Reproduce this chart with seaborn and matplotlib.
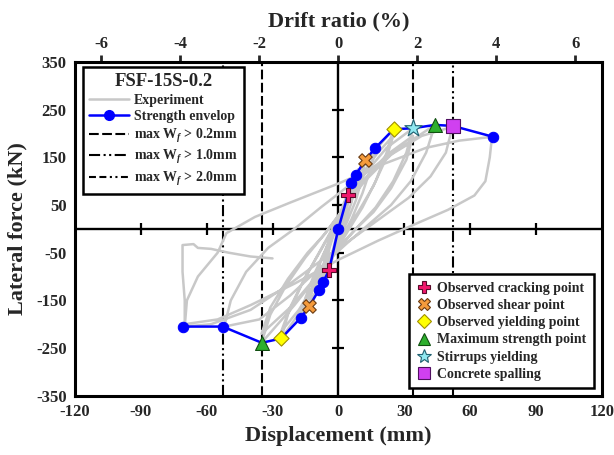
import matplotlib
matplotlib.use("Agg")
import matplotlib.pyplot as plt
import seaborn as sns
from matplotlib.lines import Line2D

# ---------------- data ----------------
exp_x = [0, 2, 4, 3, 1, 0, -2, -4, -3, -1, 0,
         2, 4, 6, 5, 3, 1, -1, -3, -5, -7, -6, -4, -2, 0,
         3, 6, 9, 8, 6, 3, 0, -3, -6, -9, -8, -6, -3, 0,
         3, 7, 12, 11, 8, 4, 0, -4, -9, -13, -12, -9, -5, -1,
         3, 8, 12, 17, 15, 11, 6, 1, -4, -10, -17, -15, -11, -6, -2,
         3, 9, 16, 25, 22, 17, 11, 5, -1, -8, -16, -26, -23, -17, -10, -4,
         3, 10, 18, 25, 22, 16, 9, 3, -3, -10, -18, -26, -22, -15, -8, -3,
         4, 12, 22, 34, 31, 25, 17, 9, 1, -8, -20, -35, -31, -24, -15, -7,
         2, 12, 22, 34, 31, 24, 16, 8, 0, -10, -22, -35, -31, -23, -14, -6,
         2, 12, 25, 44, 40, 33, 24, 14, 4, -8, -22, -36, -52, -49, -42, -32, -20,
         -8, 6, 22, 38, 52, 49, 42, 32, 20, 8, -6, -22, -40, -58, -70, -69, -64, -55, -51,
         -38, -22, 0, 20, 40, 55, 70, 69, 67, 62, 50, 35, 18, 0, -20, -40, -55, -70,
         -70, -71, -71, -66, -64, -58, -50, -40, -30]
exp_y = [0, 35, 65, 40, 5, -15, -50, -85, -55, -15, 0,
         40, 70, 95, 65, 25, -5, -30, -60, -88, -110, -80, -40, -10, 10,
         55, 95, 125, 95, 55, 15, -20, -55, -95, -130, -100, -60, -20, 15,
         55, 100, 144, 110, 60, 15, -25, -70, -120, -162, -125, -80, -35, 5,
         55, 105, 140, 170, 130, 75, 20, -25, -70, -130, -186, -145, -95, -45, 0,
         60, 115, 160, 209, 160, 100, 45, 0, -45, -100, -165, -230, -180, -120, -60, -10,
         50, 110, 160, 195, 150, 90, 35, -5, -50, -110, -170, -215, -165, -100, -45, -5,
         55, 115, 170, 211, 160, 100, 45, 5, -35, -90, -160, -239, -180, -120, -60, -15,
         40, 105, 155, 195, 145, 85, 35, 0, -40, -100, -165, -220, -165, -105, -50, -10,
         40, 100, 160, 218, 160, 100, 50, 10, -30, -80, -140, -190, -205, -150, -90, -40, 0,
         45, 95, 150, 195, 214, 160, 110, 65, 25, -15, -60, -115, -170, -200, -205, -150, -100, -50, -9,
         25, 55, 95, 135, 170, 185, 193, 150, 100, 70, 40, 10, -25, -65, -115, -160, -190, -200,
         -150, -90, -34, -32, -40, -42, -50, -58, -62]

env_x = [-70.6, -52.7, -34.9, -26.1, -17.0, -13.2, -8.8, -6.8, -4.2, 0,
         4.3, 5.6, 7.9, 12.2, 16.9, 25.2, 33.9, 44.0, 52.1, 70.6]
env_y = [-205, -205, -239, -230, -186, -162, -128, -111, -86, 0,
         71, 97, 113, 144, 170, 209, 211, 218, 216, 193]

crack_x, crack_y = [4.3, -4.2], [71, -86]
shear_x, shear_y = [12.2, -13.2], [144, -162]
yield_x, yield_y = [25.2, -26.1], [209, -230]
maxs_x, maxs_y = [44.0, -34.9], [218, -239]
stirr_x, stirr_y = [33.9], [211]
spall_x, spall_y = [52.1], [216]

wf02_x = [-34.9, 33.9]
wf10_x = [-52.7, 52.1]

x_ticks = [-120, -90, -60, -30, 0, 30, 60, 90, 120]
y_ticks = [-350, -250, -150, -50, 50, 150, 250, 350]
drift_ticks = [-6, -4, -2, 0, 2, 4, 6]
height_mm = 1800

# ---------------- style ----------------
sns.set_theme(style="white")
plt.rcParams["font.family"] = ["Liberation Serif", "DejaVu Serif"]
plt.rcParams["font.weight"] = "bold"
plt.rcParams["axes.labelweight"] = "bold"
plt.rcParams["axes.unicode_minus"] = False
plt.rcParams["mathtext.fontset"] = "custom"
plt.rcParams["mathtext.rm"] = "Liberation Serif:bold"
plt.rcParams["mathtext.it"] = "Liberation Serif:italic:bold"
plt.rcParams["mathtext.bf"] = "Liberation Serif:bold"
plt.rcParams["lines.scale_dashes"] = False

fig = plt.figure(figsize=(6.14, 4.55), dpi=100)
ax = fig.add_axes([75 / 614, 1 - 395.7 / 455, 526.7 / 614, 333.7 / 455])

GRAY = "#C8C8C8"
BLUE = "#0000FF"

sns.lineplot(x=exp_x, y=exp_y, sort=False, estimator=None, color=GRAY,
             lw=1.8, ax=ax, zorder=2)

dash02 = (7, 2.5)
dash10 = (8, 2.5, 1.5, 2.5, 1.5, 2.5)
dash20 = (5, 2.5, 5, 2.5, 1.5, 2.5, 1.5, 2.5)
for xv in wf02_x:
    ax.axvline(xv, color="black", lw=1.5, dashes=dash02, zorder=1)
for xv in wf10_x:
    ax.axvline(xv, color="black", lw=1.5, dashes=dash10, zorder=1)

ax.axhline(0, color="black", lw=1.7, zorder=1.5)
ax.axvline(0, color="black", lw=1.7, zorder=1.5)
# ticks on the centre lines
cx = [t for t in x_ticks if t not in (0, -120, 120)]
cy = [t for t in y_ticks if abs(t) != 350]
ax.plot(cx, [0] * len(cx), ls="none", marker="|", ms=9, mew=1.6, color="black", zorder=1.5)
ax.plot([0] * len(cy), cy, ls="none", marker="_", ms=9, mew=1.6, color="black", zorder=1.5)

special = set(zip(crack_x + shear_x + yield_x + maxs_x + stirr_x + spall_x,
                  crack_y + shear_y + yield_y + maxs_y + stirr_y + spall_y))
circ_idx = [i for i, p in enumerate(zip(env_x, env_y)) if p not in special]
sns.lineplot(x=env_x, y=env_y, sort=False, estimator=None, color=BLUE, lw=1.8,
             marker="o", markevery=circ_idx, ms=7.5, mec=BLUE, mfc=BLUE, ax=ax, zorder=4)

mk = dict(ax=ax, zorder=5, legend=False)
sns.scatterplot(x=crack_x, y=crack_y, marker="P", s=95, color="#F0186C", edgecolor="#5A0A2A", linewidth=0.8, **mk)
sns.scatterplot(x=shear_x, y=shear_y, marker="X", s=95, color="#F59B3C", edgecolor="#6A3A10", linewidth=0.8, **mk)
sns.scatterplot(x=yield_x, y=yield_y, marker="D", s=60, color="#FFFF00", edgecolor="#A09000", linewidth=0.8, **mk)
sns.scatterplot(x=maxs_x, y=maxs_y, marker="^", s=100, color="#2DB02D", edgecolor="#105010", linewidth=0.8, **mk)
sns.scatterplot(x=stirr_x, y=stirr_y, marker="*", s=170, color="#90E8F0", edgecolor="#206070", linewidth=0.8, **mk)
sns.scatterplot(x=spall_x, y=spall_y, marker="s", s=95, color="#D040F0", edgecolor="#501060", linewidth=0.8, **mk)

ax.set_xlim(-120, 120)
ax.set_ylim(-350, 350)
ax.set_xticks(x_ticks)
ax.set_yticks(y_ticks)
ax.tick_params(axis="both", length=0, labelsize=12, pad=6)
for lab in ax.get_xticklabels() + ax.get_yticklabels():
    lab.set_fontweight("bold")
for sp in ax.spines.values():
    sp.set_visible(True)
    sp.set_color("black")
    sp.set_linewidth(2.2)
ax.set_xlabel("Displacement (mm)", fontsize=16, fontweight="bold", labelpad=4)
ax.set_ylabel("Lateral force (kN)", fontsize=16, fontweight="bold", labelpad=6)

sec = ax.secondary_xaxis("top", functions=(lambda d: d / height_mm * 100,
                                           lambda r: r * height_mm / 100))
sec.set_xticks(drift_ticks)
sec.tick_params(axis="x", direction="out", length=5, width=2, labelsize=12, pad=2)
for lab in sec.get_xticklabels():
    lab.set_fontweight("bold")
sec.set_xlabel("Drift ratio (%)", fontsize=16, fontweight="bold", labelpad=7)

# legends
h1 = [Line2D([], [], color=GRAY, lw=1.8),
      Line2D([], [], color=BLUE, lw=1.8, marker="o", ms=7, mfc=BLUE, mec=BLUE),
      Line2D([], [], color="black", lw=1.5, dashes=dash02),
      Line2D([], [], color="black", lw=1.5, dashes=dash10),
      Line2D([], [], color="black", lw=1.5, dashes=dash20)]
l1 = ["Experiment", "Strength envelop", r"max W$_{f}$ > 0.2mm",
      r"max W$_{f}$ > 1.0mm", r"max W$_{f}$ > 2.0mm"]
leg1 = ax.legend(h1, l1, title="FSF-15S-0.2", loc="upper left",
                 bbox_to_anchor=(0.0146, 0.985), borderaxespad=0,
                 prop={"weight": "bold", "size": 10},
                 title_fontproperties={"weight": "bold", "size": 13.5},
                 frameon=True, fancybox=False, edgecolor="black",
                 framealpha=1, handlelength=2.9, handletextpad=0.35,
                 labelspacing=0.25, borderpad=0.45)
leg1.get_frame().set_linewidth(1.8)
ax.add_artist(leg1)

h2 = [Line2D([], [], ls="none", marker="P", ms=9, mfc="#F0186C", mec="#5A0A2A", mew=0.8),
      Line2D([], [], ls="none", marker="X", ms=9, mfc="#F59B3C", mec="#6A3A10", mew=0.8),
      Line2D([], [], ls="none", marker="D", ms=7, mfc="#FFFF00", mec="#A09000", mew=0.8),
      Line2D([], [], ls="none", marker="^", ms=9, mfc="#2DB02D", mec="#105010", mew=0.8),
      Line2D([], [], ls="none", marker="*", ms=10, mfc="#90E8F0", mec="#206070", mew=0.8),
      Line2D([], [], ls="none", marker="s", ms=8, mfc="#D040F0", mec="#501060", mew=0.8)]
l2 = ["Observed cracking point", "Observed shear point", "Observed yielding point",
      "Maximum strength point", "Stirrups yielding", "Concrete spalling"]
leg2 = ax.legend(h2, l2, loc="lower right", bbox_to_anchor=(0.9854, 0.022),
                 borderaxespad=0, prop={"weight": "bold", "size": 10},
                 frameon=True, fancybox=False, edgecolor="black", framealpha=1,
                 handlelength=1.0, handletextpad=0.45, labelspacing=0.3,
                 borderpad=0.55)
leg2.get_frame().set_linewidth(1.8)

fig.savefig("out.png", dpi=100)
